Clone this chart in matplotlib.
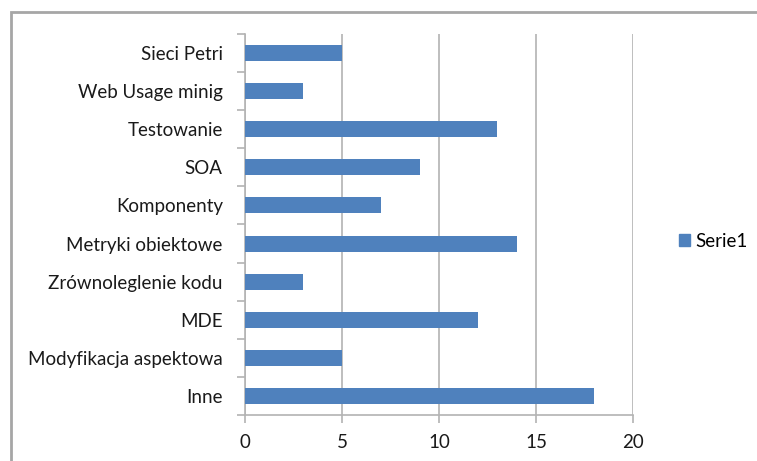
import matplotlib
matplotlib.use('Agg')
import matplotlib.pyplot as plt
from matplotlib.patches import Rectangle, Patch

categories = ['Inne', 'Modyfikacja aspektowa', 'MDE', 'Zrównoleglenie kodu',
              'Metryki obiektowe', 'Komponenty', 'SOA', 'Testowanie',
              'Web Usage minig', 'Sieci Petri']
values = [18, 5, 12, 3, 14, 7, 9, 13, 3, 5]
x_ticks = [0, 5, 10, 15, 20]
series_name = 'Serie1'

plt.rcParams['font.family'] = ['Lato', 'DejaVu Sans']

fig = plt.figure(figsize=(7.57, 4.61), dpi=100)
ax = fig.add_axes([245/757, 46/461, 388/757, 381/461])

pos = list(range(len(categories)))
ax.barh(pos, values, height=0.42, color='#4F81BD', zorder=3)

ax.set_xlim(0, 20)
ax.set_ylim(-0.5, len(categories) - 0.5)
ax.set_xticks(x_ticks)
ax.set_yticks(pos)
ax.set_yticklabels(categories)
ax.set_yticks([p - 0.5 for p in pos] + [len(categories) - 0.5], minor=True)

ax.xaxis.grid(True, color='#b3b3b3', linewidth=1.2, zorder=0)
for s in ['top', 'right']:
    ax.spines[s].set_visible(False)
for s in ['left', 'bottom']:
    ax.spines[s].set_color('#b3b3b3')
    ax.spines[s].set_linewidth(1.2)

ax.tick_params(axis='y', which='major', length=0, pad=16, labelsize=13.5, labelcolor='#1a1a1a')
ax.tick_params(axis='y', which='minor', length=6, color='#b3b3b3', width=1.2)
ax.tick_params(axis='x', which='major', length=6, color='#b3b3b3', width=1.2,
               labelsize=13.5, labelcolor='#1a1a1a', pad=8)

ax.legend(handles=[Patch(color='#4F81BD', label=series_name)],
          loc='center left', bbox_to_anchor=(662/757, 220/461),
          bbox_transform=fig.transFigure, frameon=False, fontsize=13.5,
          handlelength=0.6, handleheight=0.6, handletextpad=0.3)

fig.patches.append(Rectangle((11/757, -0.1), 1.0, 1.1 - 12/461, fill=False,
                             edgecolor='#a6a6a6', linewidth=2,
                             transform=fig.transFigure, figure=fig))

fig.savefig('out.png', dpi=100, facecolor='white')
